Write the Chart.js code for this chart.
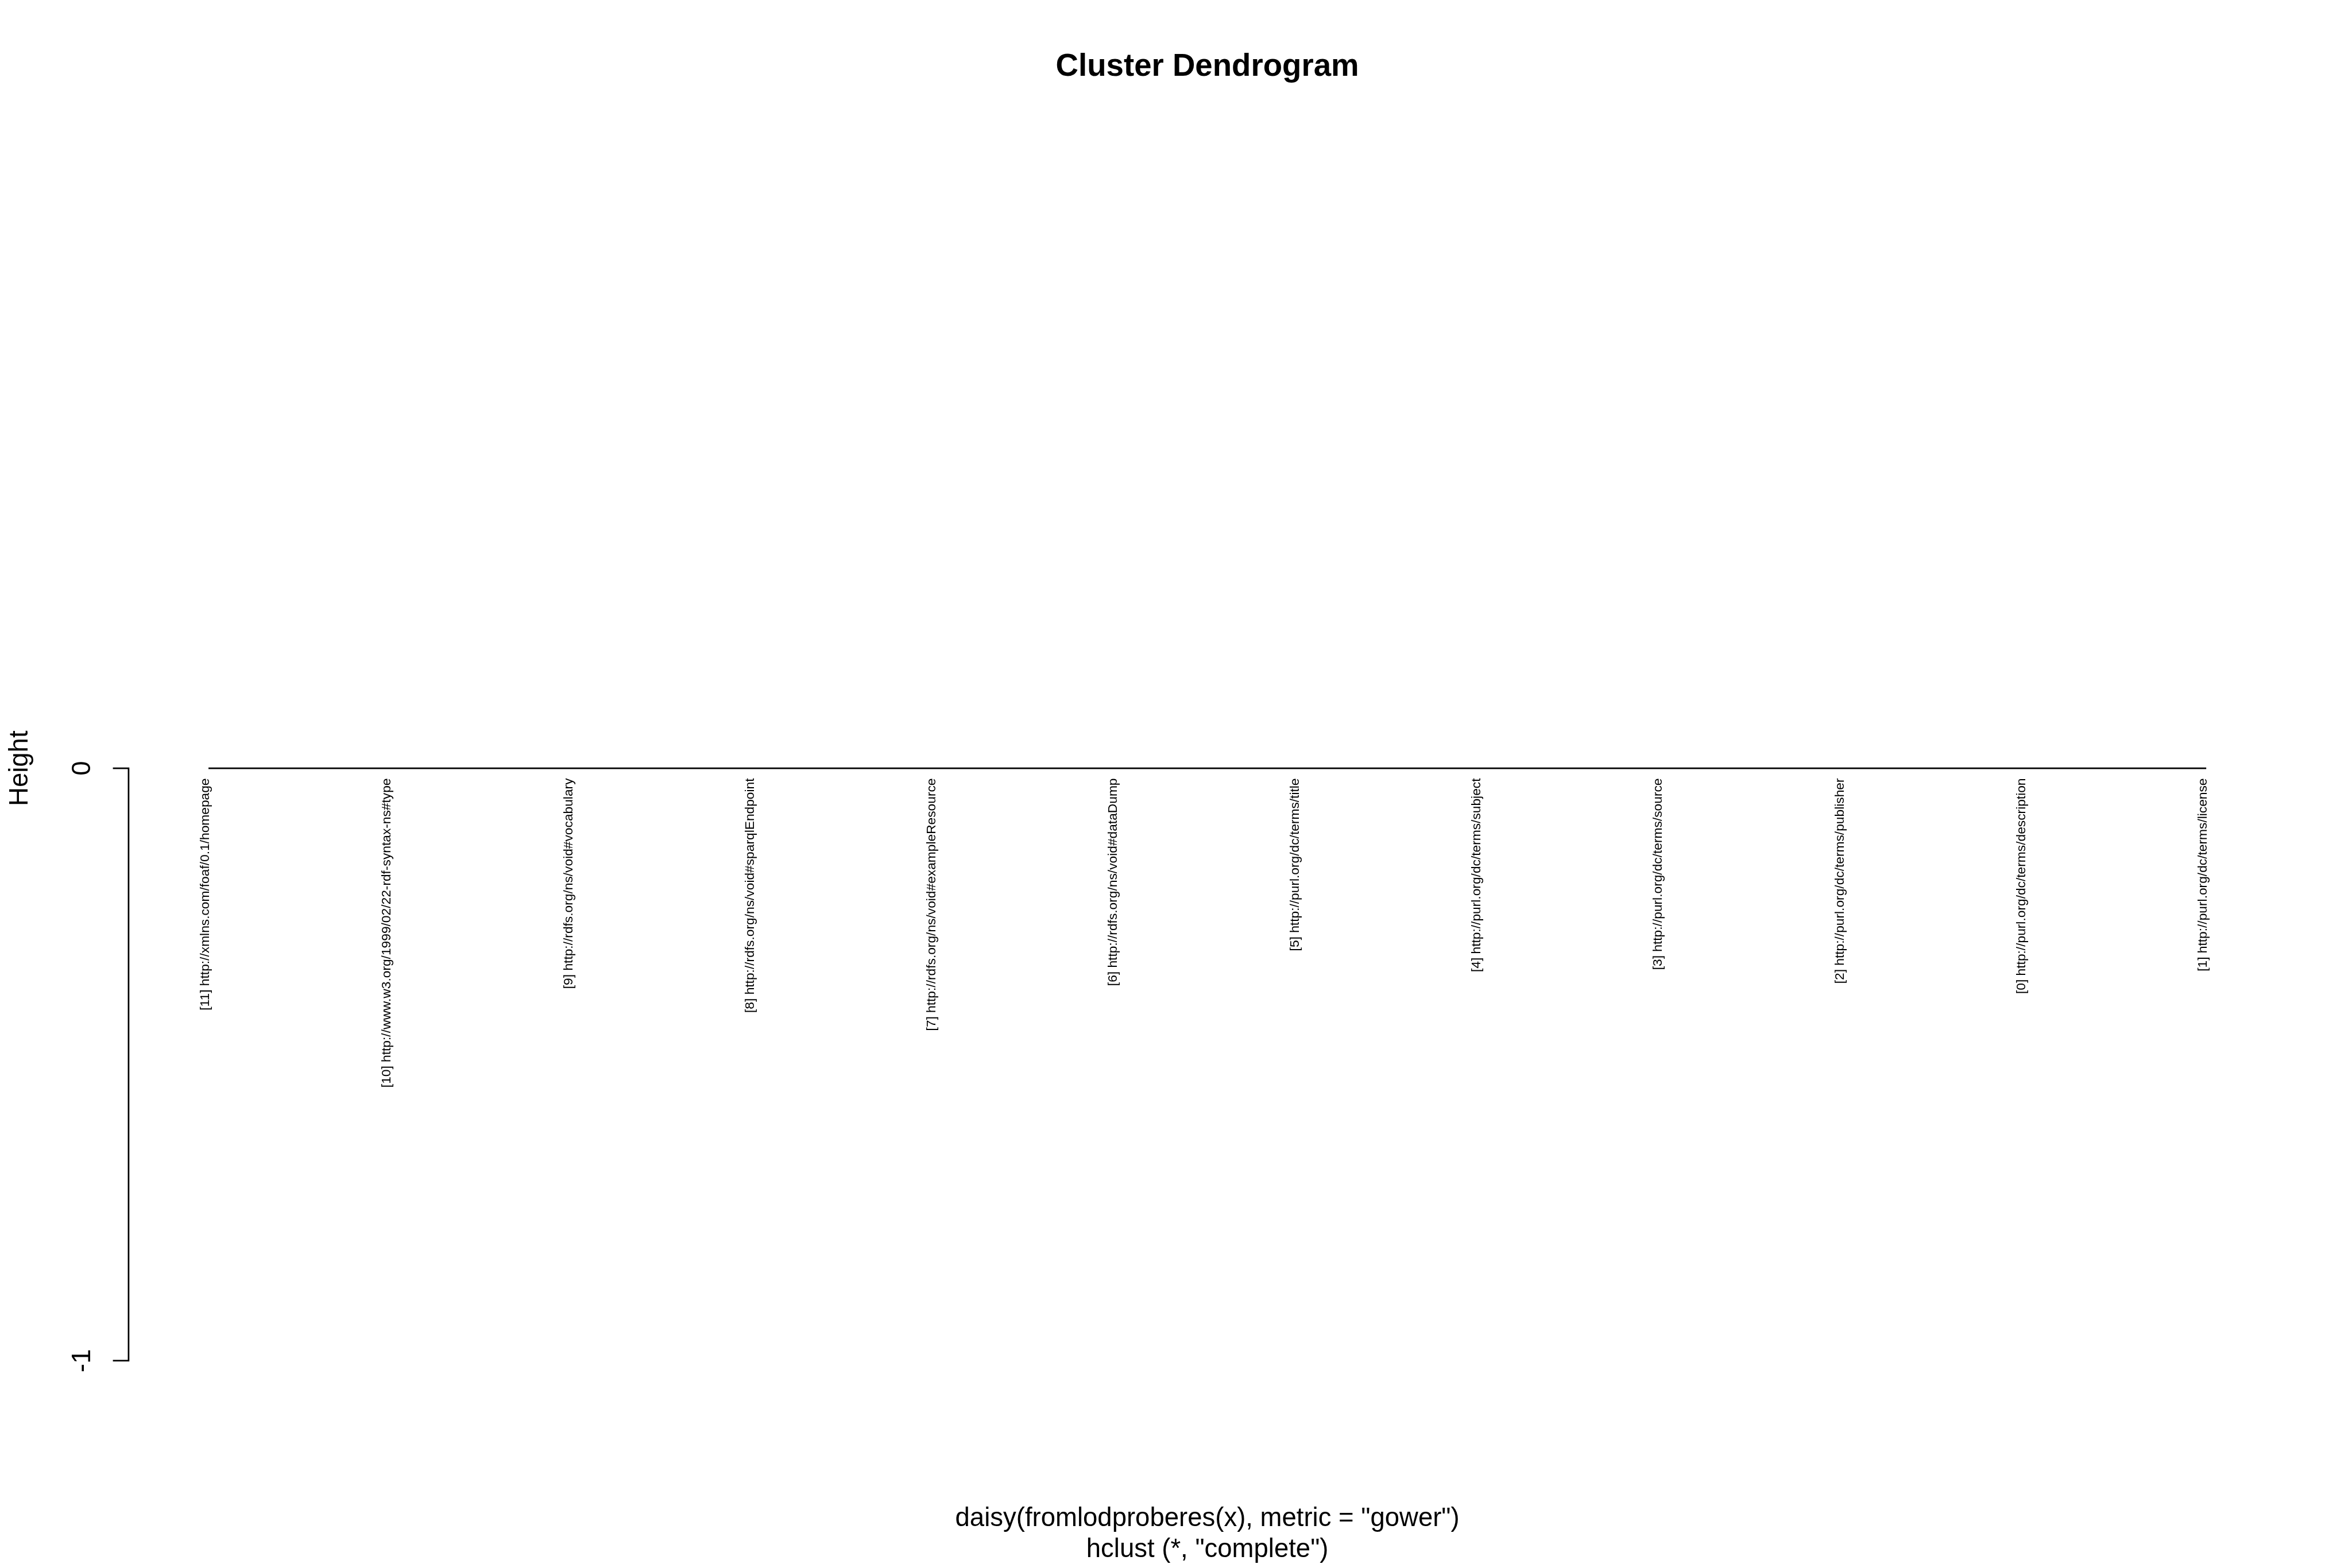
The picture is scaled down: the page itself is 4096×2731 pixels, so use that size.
<!DOCTYPE html>
<html>
<head>
<meta charset="utf-8">
<script src="https://cdn.jsdelivr.net/npm/chart.js@4.4.1/dist/chart.umd.min.js"></script>
<style>
html, body { margin: 0; padding: 0; background: #ffffff; }
#wrap { width: 4096px; height: 2731px; }
canvas { display: block; }
</style>
</head>
<body>
<div id="wrap"><canvas id="c" width="4096" height="2731"></canvas></div>
<script>
// ---- data ----
const leafLabels = [
  "[11] http://xmlns.com/foaf/0.1/homepage",
  "[10] http://www.w3.org/1999/02/22-rdf-syntax-ns#type",
  "[9] http://rdfs.org/ns/void#vocabulary",
  "[8] http://rdfs.org/ns/void#sparqlEndpoint",
  "[7] http://rdfs.org/ns/void#exampleResource",
  "[6] http://rdfs.org/ns/void#dataDump",
  "[5] http://purl.org/dc/terms/title",
  "[4] http://purl.org/dc/terms/subject",
  "[3] http://purl.org/dc/terms/source",
  "[2] http://purl.org/dc/terms/publisher",
  "[0] http://purl.org/dc/terms/description",
  "[1] http://purl.org/dc/terms/license"
];
const leafPositions = [1, 2, 3, 4, 5, 6, 7, 8, 9, 10, 11, 12];
const leafHeights = [0, 0, 0, 0, 0, 0, 0, 0, 0, 0, 0, 0];
const yTicks = [-1, 0];
const yTickLabels = ["-1", "0"];
const titleText = "Cluster Dendrogram";
const xLabelText = 'daisy(fromlodproberes(x), metric = "gower")';
const subText = 'hclust (*, "complete")';
const yLabelText = "Height";

// ---- layout (reference pixels scaled) ----
const S = 4096 / 4500;
const FONT = '"Liberation Sans", Arial, Helvetica, sans-serif';

const annot = {
  id: 'annot',
  beforeDraw(chart) {
    const ctx = chart.ctx;
    ctx.save();
    ctx.fillStyle = '#ffffff';
    ctx.fillRect(0, 0, chart.width, chart.height);
    ctx.restore();
  },
  afterDraw(chart) {
    const ctx = chart.ctx;
    const xs = chart.scales.x, ys = chart.scales.y;
    const ca = chart.chartArea;
    ctx.save();
    ctx.strokeStyle = '#000000';
    ctx.fillStyle = '#000000';
    ctx.lineWidth = 3 * S;
    ctx.lineCap = 'butt';

    // y axis line and ticks
    const yTop = ys.getPixelForValue(Math.max(...yTicks));
    const yBot = ys.getPixelForValue(Math.min(...yTicks));
    ctx.beginPath();
    ctx.moveTo(ca.left, yTop);
    ctx.lineTo(ca.left, yBot);
    yTicks.forEach(v => {
      const py = ys.getPixelForValue(v);
      ctx.moveTo(ca.left + 1.5 * S, py);
      ctx.lineTo(ca.left - 30 * S, py);
    });
    ctx.stroke();

    // y tick labels (rotated, parallel to axis)
    ctx.font = (50 * S) + 'px ' + FONT;
    ctx.textAlign = 'center';
    ctx.textBaseline = 'alphabetic';
    yTicks.forEach((v, i) => {
      const py = ys.getPixelForValue(v);
      ctx.save();
      ctx.translate(ca.left - 73 * S, py);
      ctx.rotate(-Math.PI / 2);
      ctx.fillText(yTickLabels[i], 0, 0);
      ctx.restore();
    });

    // y label
    ctx.save();
    ctx.translate(ca.left - 193 * S, (ca.top + ca.bottom) / 2);
    ctx.rotate(-Math.PI / 2);
    ctx.fillText(yLabelText, 0, 0);
    ctx.restore();

    // leaf labels
    ctx.font = (25 * S) + 'px ' + FONT;
    ctx.textAlign = 'right';
    leafLabels.forEach((lab, i) => {
      const px = xs.getPixelForValue(leafPositions[i]);
      const py = ys.getPixelForValue(leafHeights[i]) + 19 * S;
      ctx.save();
      ctx.translate(px + 1 * S, py);
      ctx.rotate(-Math.PI / 2);
      ctx.fillText(lab, 0, 0);
      ctx.restore();
    });

    // title
    const cx = (ca.left + ca.right) / 2;
    ctx.textAlign = 'center';
    ctx.font = 'bold ' + (60 * S) + 'px ' + FONT;
    ctx.fillText(titleText, cx, 145 * S);

    // x label and sub
    ctx.font = (50 * S) + 'px ' + FONT;
    ctx.fillText(xLabelText, cx, 2920 * S);
    ctx.fillText(subText, cx, 2980 * S);
    ctx.restore();
  }
};

new Chart(document.getElementById('c'), {
  type: 'line',
  data: {
    datasets: [{
      data: leafPositions.map((x, i) => ({ x: x, y: leafHeights[i] })),
      borderColor: '#000000',
      borderWidth: 3 * S,
      pointRadius: 0,
      tension: 0,
      fill: false,
      clip: false
    }]
  },
  options: {
    responsive: false,
    maintainAspectRatio: false,
    devicePixelRatio: 1,
    animation: false,
    layout: {
      padding: { left: 246 * S, right: (4500 - 4374) * S, top: 246 * S, bottom: (3000 - 2694) * S }
    },
    scales: {
      x: { type: 'linear', min: 0.56, max: 12.44, display: false },
      y: { type: 'linear', min: -1.08, max: 1.08, display: false }
    },
    plugins: { legend: { display: false }, tooltip: { enabled: false }, title: { display: false } }
  },
  plugins: [annot]
});
</script>
</body>
</html>
